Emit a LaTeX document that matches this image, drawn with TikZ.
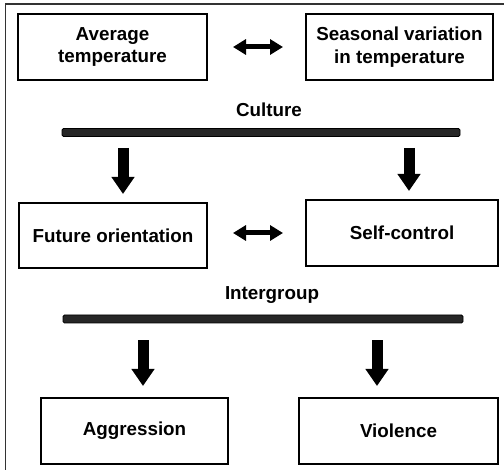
\documentclass[tikz,border=0pt]{standalone}
\usepackage{fontspec}
\setmainfont{Liberation Sans}
\usetikzlibrary{arrows.meta}
\begin{document}
\begin{tikzpicture}[x=1pt,y=-1pt,
  box/.style={draw=black,line width=2pt,rectangle,inner sep=0pt,align=center,
    font=\bfseries\fontsize{18.8}{22.5}\selectfont},
  lbl/.style={inner sep=0pt,font=\bfseries\fontsize{18.8}{22.5}\selectfont},
  bar/.style={draw=black,fill=black!85,line width=0.8pt,rounded corners=1.5pt,inner sep=0pt,minimum height=8pt},
  fat/.style={line width=11pt,-{Triangle[width=22pt,length=17pt]}},
  dbl/.style={line width=5pt,{Triangle[width=15pt,length=13pt]}-{Triangle[width=15pt,length=13pt]}}]
\useasboundingbox (0,0) rectangle (504,470);
\draw[line width=1.2pt,black!80] (5.5,470) -- (5.5,4) -- (504,4);
% top row
\node[box,minimum width=189pt,minimum height=66pt] (avg) at (112.5,47) {Average\\temperature};
\node[box,minimum width=187pt,minimum height=66pt] (sea) at (399.5,47) {Seasonal variation\\in temperature};
\draw[dbl,shorten <=25pt,shorten >=22pt] (avg.east) -- (sea.west);
% culture
\node[lbl] (cul) at (269,110) {Culture};
\node[bar,minimum width=398pt] (bar1) at (261,132.5) {};
% middle row
\node[box,minimum width=188pt,minimum height=65pt] (fut) at (113,235.5) {Future orientation};
\node[box,minimum width=192pt,minimum height=66pt] (self) at (402,233) {Self-control};
\coordinate (c1) at (123,0);
\coordinate (c2) at (409,0);
\draw[fat,shorten <=11pt,shorten >=8pt] (bar1.south -| c1) -- (c1 |- fut.north);
\draw[fat,shorten <=11pt,shorten >=8pt] (bar1.south -| c2) -- (c2 |- self.north);
\draw[dbl,shorten <=25pt,shorten >=22pt] (fut.east |- self.west) -- (self.west);
% intergroup
\node[lbl] (inter) at (272,295) {Intergroup};
\node[bar,minimum width=400pt] (bar2) at (263,319) {};
% bottom row
\node[box,minimum width=187pt,minimum height=66pt] (agg) at (134.5,431) {Aggression};
\node[box,minimum width=199pt,minimum height=66pt] (vio) at (398.5,431) {Violence};
\coordinate (c3) at (143,0);
\coordinate (c4) at (377,0);
\draw[fat,shorten <=17pt,shorten >=11pt] (bar2.south -| c3) -- (c3 |- agg.north);
\draw[fat,shorten <=17pt,shorten >=11pt] (bar2.south -| c4) -- (c4 |- vio.north);
\end{tikzpicture}
\end{document}
